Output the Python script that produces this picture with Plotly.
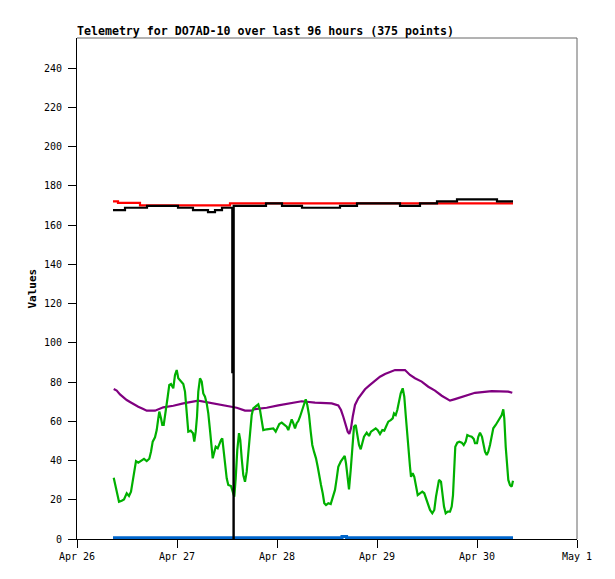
import pandas as pd
import plotly.graph_objects as go

BASE = pd.Timestamp("2024-04-26 00:00")

# hours since Apr 26 00:00
green_h = [8.81, 9.12, 9.53, 10.08, 10.73, 11.28, 11.93, 12.48, 12.96, 13.27, 13.75, 14.16, 14.71, 15.36,
           16.08, 16.73, 17.35, 17.76, 18.17, 18.72, 19.13, 19.51, 19.75, 20.16, 20.47, 20.81, 21.12, 21.43,
           21.77, 22.15, 22.56, 23.11, 23.52, 23.93, 24.31, 24.89, 25.51, 25.92, 26.33, 26.71, 27.29, 27.84,
           28.15, 28.49, 28.80, 29.11, 29.52, 29.93, 30.31, 30.72, 31.13, 31.51, 31.92, 32.33, 32.57, 32.88,
           33.29, 33.77, 34.15, 34.56, 34.87, 35.11, 35.52, 35.93, 36.31, 36.96, 37.37, 37.75, 38.09, 38.47,
           38.88, 39.19, 39.53, 39.91, 40.32, 40.73, 41.11, 41.52, 41.93, 42.31, 42.89, 43.51, 43.92, 44.33,
           44.71, 45.53, 46.32, 47.11, 47.69, 48.07, 48.55, 49.13, 49.75, 50.33, 50.71, 51.12, 51.53, 51.91,
           52.32, 52.73, 53.11, 53.52, 53.93, 54.31, 54.89, 55.27, 55.68, 56.09, 56.47, 56.88, 57.36, 57.77,
           58.15, 58.56, 58.97, 59.35, 59.76, 60.31, 60.89, 61.37, 61.92, 62.33, 62.71, 63.29, 63.77, 64.25,
           64.56, 64.87, 65.28, 65.69, 66.07, 66.48, 66.89, 67.27, 67.68, 68.09, 68.47, 68.88, 69.53, 70.08,
           70.56, 71.11, 71.69, 72.17, 72.72, 73.27, 73.75, 74.16, 74.71, 75.29, 75.77, 76.08, 76.49, 76.87,
           77.28, 77.69, 78.17, 78.55, 78.89, 79.20, 79.51, 79.92, 80.16, 80.57, 80.95, 81.36, 81.77, 82.32,
           82.87, 83.35, 83.76, 84.17, 84.72, 85.27, 85.75, 86.16, 86.57, 86.88, 87.36, 87.67, 88.08, 88.49,
           88.97, 89.52, 89.93, 90.24, 90.48, 90.79, 91.27, 91.75, 92.33, 92.81, 93.29, 93.67, 94.15, 94.73,
           95.21, 95.52, 96.00, 96.31, 96.72, 97.20, 97.51, 97.92, 98.33, 98.71, 99.12, 99.53, 99.91, 100.49,
           100.97, 101.45, 101.93, 102.31, 102.55, 102.89, 103.20, 103.51, 103.92, 104.33, 104.64]
green_v = [31.2, 28.4, 23.3, 19.0, 19.5, 20.2, 23.3, 21.9, 24.1, 28.4, 35.2, 39.7, 38.9, 39.9,
           40.8, 39.7, 40.9, 44.5, 49.6, 51.8, 55.5, 61.5, 64.9, 61.5, 58.1, 58.1, 64.0, 67.4,
           72.5, 78.5, 79.0, 76.8, 83.6, 86.1, 81.9, 80.2, 79.0, 75.1, 64.0, 54.7, 55.2, 53.9,
           49.6, 54.7, 62.3, 75.1, 81.9, 80.2, 74.2, 72.5, 69.1, 64.0, 55.5, 45.4, 41.1, 43.7,
           47.0, 46.2, 48.8, 50.4, 51.3, 47.0, 36.8, 30.9, 27.5, 27.0, 24.1, 21.6, 30.9, 45.4,
           53.9, 50.4, 41.0, 32.6, 29.2, 34.3, 43.7, 54.7, 63.2, 66.6, 67.4, 68.6, 65.7, 59.8,
           55.5, 55.9, 56.1, 56.4, 54.7, 56.4, 58.6, 59.3, 58.1, 57.2, 55.5, 58.1, 61.0, 59.0,
           56.4, 59.0, 60.1, 62.3, 64.9, 68.3, 71.2, 68.3, 63.2, 54.7, 47.9, 44.5, 41.1, 36.8,
           31.7, 27.5, 23.3, 18.2, 17.3, 18.2, 17.8, 21.6, 25.0, 30.9, 36.8, 39.4, 41.1, 42.3,
           38.6, 31.7, 25.3, 35.2, 48.8, 57.2, 58.1, 53.0, 47.9, 45.7, 49.6, 52.1, 54.2, 52.5,
           54.7, 55.5, 56.4, 55.5, 53.5, 55.5, 55.2, 57.2, 59.8, 60.6, 61.5, 64.0, 63.2, 65.7,
           70.8, 74.2, 76.8, 72.5, 63.2, 53.9, 45.4, 36.8, 31.7, 33.5, 31.7, 25.8, 22.4, 23.3,
           24.1, 23.3, 20.7, 17.3, 14.8, 13.1, 14.8, 21.6, 27.5, 30.1, 29.2, 23.3, 16.5, 13.1,
           13.9, 13.9, 16.5, 22.4, 33.5, 47.0, 49.1, 49.6, 49.1, 47.9, 49.6, 53.0, 52.5, 52.1,
           51.0, 48.8, 48.8, 52.1, 54.2, 52.1, 48.8, 44.5, 42.8, 44.5, 47.9, 53.0, 56.4, 58.1,
           59.8, 61.5, 63.2, 66.1, 61.5, 47.0, 35.2, 30.1, 27.5, 26.7, 29.7]

purple_h = [8.81, 9.53, 10.32, 11.11, 11.93, 12.72, 13.51, 14.71, 15.91, 16.73, 18.72, 19.51, 20.71, 23.11,
            25.51, 29.11, 31.51, 34.32, 36.31, 38.33, 40.32, 41.93, 42.72, 45.53, 48.31, 51.12, 53.93, 57.12,
            61.13, 62.71, 63.36, 63.91, 64.56, 64.97, 65.35, 65.76, 66.17, 66.72, 67.51, 68.33, 69.12, 70.32,
            71.52, 72.72, 73.92, 75.12, 76.32, 78.72, 79.92, 81.12, 82.73, 84.31, 85.92, 87.53, 88.73, 89.52,
            90.72, 92.33, 93.91, 95.52, 99.53, 103.51, 104.47]
purple_v = [76.4, 75.6, 73.7, 72.2, 70.8, 69.8, 68.8, 67.4, 66.2, 65.4, 65.4, 66.2, 67.1, 67.9,
            69.1, 70.5, 69.5, 68.6, 67.4, 66.9, 65.4, 65.4, 66.2, 66.9, 68.1, 69.1, 70.2, 69.5,
            69.1, 68.1, 65.7, 62.3, 58.1, 54.7, 53.5, 56.4, 62.3, 68.3, 71.7, 74.2, 76.3, 78.5,
            80.7, 82.7, 84.1, 85.3, 86.1, 86.1, 83.6, 81.9, 80.2, 77.6, 75.6, 73.0, 71.3, 70.5,
            71.3, 72.5, 73.7, 74.5, 75.4, 75.1, 74.5]

black_h = [8.64, 11.52, 16.80, 24.24, 27.84, 31.44, 33.12, 34.80, 37.27, 37.56, 37.61, 45.36, 49.20,
           54.00, 63.12, 67.20, 77.52, 82.32, 86.40, 91.20, 100.80, 104.64]
black_v = [167.6, 168.8, 169.8, 168.8, 167.6, 166.6, 167.6, 168.8, 85.0, 0.0, 169.8, 171.0, 169.8,
           168.8, 169.8, 171.0, 169.8, 171.0, 172.0, 173.1, 172.0, 172.0]

red_h = [8.64, 9.84, 15.12, 36.72, 104.64]
red_v = [172.0, 171.3, 170.0, 171.0, 171.0]

blue_h = [8.64, 63.50, 63.60, 64.60, 64.70, 104.64]
blue_v = [0.7, 0.7, 1.3, 1.3, 0.7, 0.7]

x_ticks = ["2024-04-26", "2024-04-27", "2024-04-28", "2024-04-29", "2024-04-30", "2024-05-01"]
y_ticks = list(range(0, 241, 20))


def to_time(hours):
    return BASE + pd.to_timedelta(hours, unit="h")


fig = go.Figure()
fig.add_trace(go.Scatter(x=to_time(blue_h), y=blue_v, mode="lines",
                         line=dict(color="#0066cc", width=3, shape="hv")))
fig.add_trace(go.Scatter(x=to_time(purple_h), y=purple_v, mode="lines",
                         line=dict(color="#800080", width=2.2)))
fig.add_trace(go.Scatter(x=to_time(green_h), y=green_v, mode="lines",
                         line=dict(color="#00b000", width=2.2)))
fig.add_trace(go.Scatter(x=to_time(red_h), y=red_v, mode="lines",
                         line=dict(color="#ff0000", width=2.2, shape="hv")))
fig.add_trace(go.Scatter(x=to_time(black_h), y=black_v, mode="lines",
                         line=dict(color="#000000", width=2.2, shape="hv")))

mono = "DejaVu Sans Mono"
W, H = 607, 571
fig.update_layout(
    width=W, height=H,
    margin=dict(l=69, r=38, t=30, b=40),
    paper_bgcolor="white", plot_bgcolor="white",
    showlegend=False,
    title=dict(text="<b>Telemetry for DO7AD-10 over last 96 hours (375 points)</b>",
               font=dict(family=mono, size=11.6, color="black"),
               x=69 / W, xanchor="left", xref="container",
               y=1 - 23 / H, yanchor="middle", yref="container"),
    xaxis=dict(range=[x_ticks[0], x_ticks[-1]], tickvals=x_ticks, tickformat="%b %-d",
               showgrid=False, zeroline=False, showline=True, linecolor="black", linewidth=1,
               ticks="outside", ticklen=8, tickcolor="black",
               tickfont=dict(family=mono, size=10, color="black")),
    yaxis=dict(range=[0, 255.3], tickvals=y_ticks, showgrid=False, zeroline=False,
               showline=True, linecolor="black", linewidth=1,
               ticks="outside", ticklen=8, tickcolor="black", ticklabelstandoff=4,
               tickfont=dict(family=mono, size=10, color="black")),
    shapes=[
        dict(type="line", xref="paper", yref="paper", x0=0, x1=1, y0=1, y1=1,
             line=dict(color="#666666", width=1)),
        dict(type="line", xref="paper", yref="paper", x0=1, x1=1, y0=0, y1=1,
             line=dict(color="#666666", width=1)),
    ],
    annotations=[dict(text="<b>Values</b>", xref="paper", yref="paper", x=-0.09, y=0.5,
                      textangle=-90, showarrow=False, xanchor="center", yanchor="middle",
                      font=dict(family=mono, size=11, color="black"))],
)

fig.write_html("out.html")
